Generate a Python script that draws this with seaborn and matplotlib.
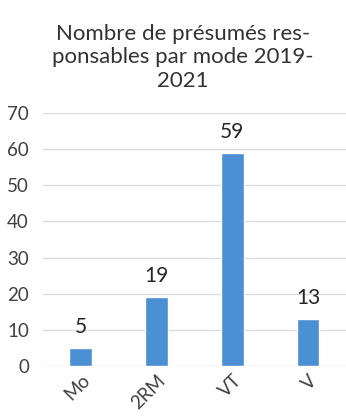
import matplotlib
matplotlib.use("Agg")
import matplotlib.pyplot as plt
import seaborn as sns
import pandas as pd

modes = ["Mo", "2RM", "VT", "V"]
counts = [5, 19, 59, 13]
yticks = [0, 10, 20, 30, 40, 50, 60, 70]

sns.set_style("white")
plt.rcParams["font.family"] = ["Lato", "DejaVu Sans"]

df = pd.DataFrame({"mode": modes, "count": counts})

fig = plt.figure(figsize=(3.46, 4.17), dpi=100)
ax = fig.add_axes([0.124, 0.122, 0.876, 0.607])

sns.barplot(data=df, x="mode", y="count", color="#4a90d2", saturation=1,
            width=0.3, ax=ax, zorder=3)

ax.set_ylim(0, 70)
ax.set_yticks(yticks)
ax.yaxis.grid(True, color="#dcdcdc", linewidth=1, zorder=0)
ax.set_axisbelow(True)
for s in ax.spines.values():
    s.set_visible(False)
ax.set_xlabel("")
ax.set_ylabel("")
ax.tick_params(axis="both", length=0, labelsize=13.5, colors="#404040", pad=4)
plt.setp(ax.get_xticklabels(), rotation=45, ha="right", rotation_mode="anchor")
ax.tick_params(axis="y", pad=10)

for i, v in enumerate(counts):
    ax.annotate(str(v), (i, v), xytext=(0, 8), textcoords="offset points",
                ha="center", va="bottom", fontsize=15, color="#262626")

fig.text(0.528, 0.942, "Nombre de présumés res-\nponsables par mode 2019-\n2021",
         ha="center", va="top", fontsize=16, color="#333333", linespacing=1.2)

fig.savefig("out.png", dpi=100, facecolor="white")
